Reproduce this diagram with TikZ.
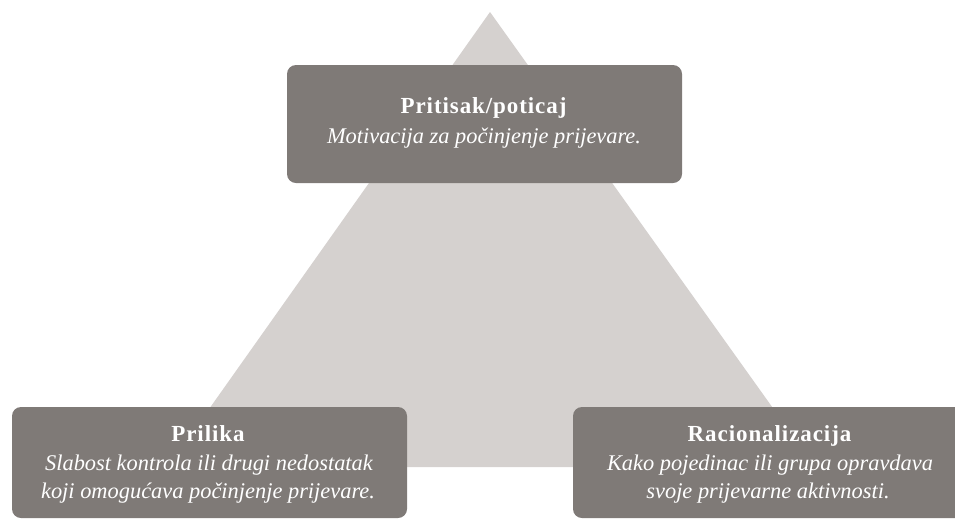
\documentclass[tikz,border=0pt]{standalone}
\usepackage{fontspec}
\setmainfont{Liberation Serif}
\definecolor{trigrey}{HTML}{D5D1CF}
\definecolor{boxgrey}{HTML}{7F7A77}
\begin{document}
\begin{tikzpicture}[x=1pt,y=-1pt,
  infobox/.style={fill=boxgrey, rounded corners=9pt, inner sep=0pt, minimum width=395pt},
  ttl/.style={text=white, inner sep=0pt, anchor=base,
    font=\fontsize{23}{28}\selectfont\bfseries\addfontfeatures{LetterSpace=4}},
  dsc/.style={text=white, inner sep=0pt, anchor=base,
    font=\fontsize{22.4}{28}\selectfont\itshape}]
\useasboundingbox (0,0) rectangle (955,520);
\clip (0,0) rectangle (955,520);
\coordinate (apex) at (490,12);
\coordinate (bl) at (168,467);
\coordinate (br) at (815,467);
\fill[trigrey] (apex) -- (bl) -- (br) -- cycle;
% top box
\node[infobox, minimum height=118pt] (top) at (484.5,124) {};
\node[ttl] (topT) at (483.5,113) {Pritisak/poticaj};
\node[dsc] (topD) at (484,143) {Motivacija za počinjenje prijevare.};
% left box
\node[infobox, minimum height=111pt] (left) at (209.5,462.5) {};
\node[ttl] (leftT) at (208,441) {Prilika};
\node[dsc] (leftD1) at (209,470) {Slabost kontrola ili drugi nedostatak};
\node[dsc] (leftD2) at (208,498) {koji omogućava počinjenje prijevare.};
% right box
\node[infobox, minimum height=111pt] (right) at (770.5,462.5) {};
\node[ttl] (rightT) at (769.5,441) {Racionalizacija};
\node[dsc] (rightD1) at (770,470) {Kako pojedinac ili grupa opravdava};
\node[dsc] (rightD2) at (768,498) {svoje prijevarne aktivnosti.};
\end{tikzpicture}
\end{document}
